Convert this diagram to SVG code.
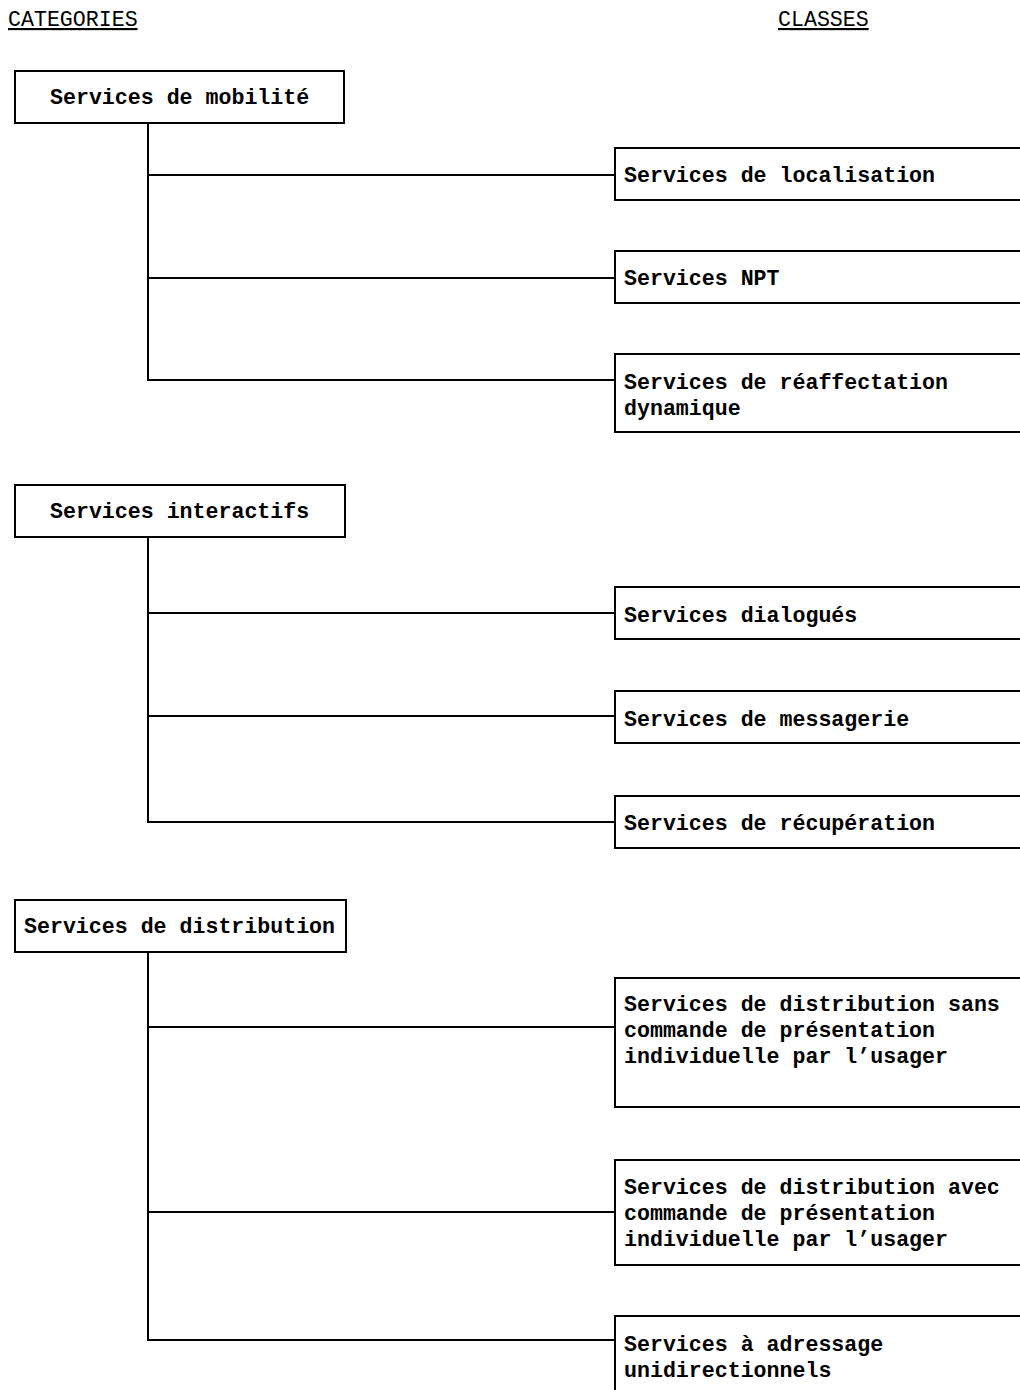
<svg xmlns="http://www.w3.org/2000/svg" width="1020" height="1390" viewBox="0 0 1020 1390">
<style>
.b{fill:#fff;stroke:#000;stroke-width:2}
.t{font-family:"Liberation Mono","Courier New",monospace;font-size:21.6px;font-weight:bold;fill:#000}
.h{font-family:"Liberation Mono","Courier New",monospace;font-size:21.6px;fill:#000;text-decoration:underline}
.c{fill:none;stroke:#000;stroke-width:2}
</style>
<rect width="1020" height="1390" fill="#fff"/>
<text class="h" x="8" y="26">CATEGORIES</text>
<text class="h" x="778" y="26">CLASSES</text>
<g id="connectors">
<path class="c" d="M148 123V380H615M148 175H615M148 278H615"/>
<path class="c" d="M148 537V822H615M148 613H615M148 716H615"/>
<path class="c" d="M148 952V1340H615M148 1027H615M148 1212H615"/>
</g>
<g id="cat1"><rect class="b" x="15" y="71" width="329" height="52"/><text class="t" x="50" y="104">Services de mobilité</text></g>
<g id="cat2"><rect class="b" x="15" y="485" width="330" height="52"/><text class="t" x="50" y="518">Services interactifs</text></g>
<g id="cat3"><rect class="b" x="15" y="900" width="331" height="52"/><text class="t" x="24" y="933">Services de distribution</text></g>
<g id="c1"><rect class="b" x="615" y="148" width="420" height="52"/><text class="t" x="624" y="182">Services de localisation</text></g>
<g id="c2"><rect class="b" x="615" y="251" width="420" height="52"/><text class="t" x="624" y="285">Services NPT</text></g>
<g id="c3"><rect class="b" x="615" y="354" width="420" height="78"/><text class="t" x="624" y="389">Services de réaffectation</text><text class="t" x="624" y="415">dynamique</text></g>
<g id="c4"><rect class="b" x="615" y="587" width="420" height="52"/><text class="t" x="624" y="622">Services dialogués</text></g>
<g id="c5"><rect class="b" x="615" y="691" width="420" height="52"/><text class="t" x="624" y="726">Services de messagerie</text></g>
<g id="c6"><rect class="b" x="615" y="796" width="420" height="52"/><text class="t" x="624" y="830">Services de récupération</text></g>
<g id="c7"><rect class="b" x="615" y="978" width="420" height="129"/><text class="t" x="624" y="1011">Services de distribution sans</text><text class="t" x="624" y="1037">commande de présentation</text><text class="t" x="624" y="1063">individuelle par l’usager</text></g>
<g id="c8"><rect class="b" x="615" y="1160" width="420" height="105"/><text class="t" x="624" y="1194">Services de distribution avec</text><text class="t" x="624" y="1220">commande de présentation</text><text class="t" x="624" y="1246">individuelle par l’usager</text></g>
<g id="c9"><rect class="b" x="615" y="1316" width="420" height="90"/><text class="t" x="624" y="1351">Services à adressage</text><text class="t" x="624" y="1377">unidirectionnels</text></g>
</svg>
